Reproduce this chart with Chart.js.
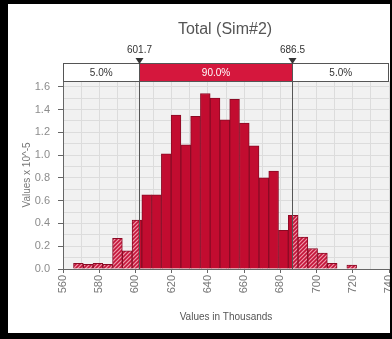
<!DOCTYPE html>
<html>
<head>
<meta charset="utf-8">
<script src="https://cdn.jsdelivr.net/npm/chart.js@4/dist/chart.umd.min.js"></script>
<style>
  html, body { margin: 0; padding: 0; background: #fff; }
  #chart { display: block; }
</style>
</head>
<body>
<canvas id="chart" width="392" height="339"></canvas>
<script>
// histogram bins (values in thousands) and density (x 10^-5)
const binCenters = [568.50, 573.89, 579.28, 584.67, 590.06, 595.45, 600.84, 606.23, 611.62, 617.01,
                    622.40, 627.79, 633.18, 638.57, 643.96, 649.35, 654.74, 660.13, 665.52, 670.91,
                    676.30, 681.69, 687.08, 692.47, 697.86, 703.25, 708.64, 714.03, 719.42];
const densities  = [0.05, 0.04, 0.05, 0.04, 0.27, 0.16, 0.43, 0.65, 0.65, 1.01,
                    1.35, 1.09, 1.34, 1.54, 1.50, 1.31, 1.49, 1.28, 1.08, 0.80,
                    0.86, 0.34, 0.47, 0.28, 0.18, 0.14, 0.05, 0, 0.035];
const yTicks     = [0, 0.1, 0.2, 0.3, 0.4, 0.5, 0.6, 0.7, 0.8, 0.9, 1.0, 1.1, 1.2, 1.3, 1.4, 1.5, 1.6];
const yLabelled  = [0, 0.2, 0.4, 0.6, 0.8, 1.0, 1.2, 1.4, 1.6];
const cutoffs    = [601.7, 686.5];
const bandLabels = ['5.0%', '90.0%', '5.0%'];
const titleText  = 'Total (Sim#2)';

const solidRed = '#c20c30';
const bandRed  = '#d5173d';
const font = '"Liberation Sans", Arial, sans-serif';

let barFill = solidRed;

const isLabelled = v => yLabelled.some(t => Math.abs(t - v) < 1e-6);

// fill that is hatched outside the cutoffs and solid in between
function buildFill(chart) {
  const x = chart.scales.x;
  const xl = x.getPixelForValue(cutoffs[0]);
  const xr = x.getPixelForValue(cutoffs[1]);
  const c = document.createElement('canvas');
  c.width = chart.width;
  c.height = chart.height;
  const g = c.getContext('2d');
  g.fillStyle = '#ef9aaa';
  g.fillRect(0, 0, c.width, c.height);
  g.strokeStyle = '#c4143a';
  g.lineWidth = 1.7;
  for (let i = -c.height; i < c.width; i += 4) {
    g.beginPath();
    g.moveTo(i, c.height);
    g.lineTo(i + c.height, 0);
    g.stroke();
  }
  g.fillStyle = solidRed;
  g.fillRect(xl, 0, xr - xl, c.height);
  return chart.ctx.createPattern(c, 'no-repeat');
}

const decor = {
  id: 'decor',
  afterLayout(chart) {
    barFill = buildFill(chart);
  },
  beforeDraw(chart) {
    const { ctx, chartArea: a } = chart;
    ctx.save();
    ctx.fillStyle = '#fff';
    ctx.fillRect(0, 0, chart.width, chart.height);
    ctx.fillStyle = '#f1f1f1';
    ctx.fillRect(a.left, a.top, a.right - a.left, a.bottom - a.top);
    ctx.restore();
  },
  afterDatasetsDraw(chart) {
    const { ctx, chartArea: a } = chart;
    const x = chart.scales.x;
    ctx.save();
    ctx.strokeStyle = '#555';
    ctx.lineWidth = 1;
    cutoffs.forEach(v => {
      const px = Math.round(x.getPixelForValue(v)) + 0.5;
      ctx.beginPath();
      ctx.moveTo(px, a.top);
      ctx.lineTo(px, a.bottom);
      ctx.stroke();
    });
    ctx.restore();
  },
  afterDraw(chart) {
    const { ctx, chartArea: a } = chart;
    const x = chart.scales.x;
    const xl = Math.round(x.getPixelForValue(cutoffs[0])) + 0.5;
    const xr = Math.round(x.getPixelForValue(cutoffs[1])) + 0.5;
    const top = 63.5, bot = a.top + 0.5;
    ctx.save();

    // percentile band
    ctx.fillStyle = '#fff';
    ctx.fillRect(a.left, top, a.right - a.left, bot - top);
    ctx.fillStyle = bandRed;
    ctx.fillRect(xl, top, xr - xl, bot - top);
    ctx.strokeStyle = '#555';
    ctx.lineWidth = 1;
    ctx.strokeRect(a.left + 0.5, top, a.right - a.left - 1, bot - top);
    ctx.beginPath();
    ctx.moveTo(xl, top); ctx.lineTo(xl, bot);
    ctx.moveTo(xr, top); ctx.lineTo(xr, bot);
    ctx.stroke();

    ctx.font = '10px ' + font;
    ctx.textAlign = 'center';
    ctx.textBaseline = 'middle';
    const my = (top + bot) / 2 + 0.5;
    ctx.fillStyle = '#333';
    ctx.fillText(bandLabels[0], (a.left + xl) / 2, my);
    ctx.fillText(bandLabels[2], (xr + a.right) / 2, my);
    ctx.fillStyle = '#fff';
    ctx.fillText(bandLabels[1], (xl + xr) / 2, my);

    // cutoff markers and values
    ctx.fillStyle = '#333';
    [xl, xr].forEach((px, i) => {
      ctx.beginPath();
      ctx.moveTo(px - 4, 58);
      ctx.lineTo(px + 4, 58);
      ctx.lineTo(px, 64);
      ctx.closePath();
      ctx.fill();
      ctx.fillText(cutoffs[i].toFixed(1), px, 50);
    });

    // title
    ctx.font = '16px ' + font;
    ctx.fillStyle = '#555';
    ctx.fillText(titleText, 225, 30);

    // black frame
    ctx.fillStyle = '#000';
    ctx.fillRect(0, 0, 8, chart.height);
    ctx.fillRect(0, 0, chart.width, 4);
    ctx.fillRect(0, chart.height - 6, chart.width, 6);
    ctx.fillRect(chart.width - 2, 0, 2, chart.height);
    ctx.restore();
  }
};

new Chart(document.getElementById('chart'), {
  type: 'bar',
  data: {
    datasets: [{
      data: binCenters.map((c, i) => ({ x: c, y: densities[i] })),
      backgroundColor: () => barFill,
      borderColor: '#8a0a24',
      borderWidth: 1,
      barPercentage: 1,
      categoryPercentage: 1
    }]
  },
  plugins: [decor],
  options: {
    responsive: false,
    animation: false,
    events: [],
    layout: { padding: { left: 8, top: 81, right: 3, bottom: 8 } },
    plugins: { legend: { display: false }, tooltip: { enabled: false } },
    scales: {
      x: {
        type: 'linear',
        min: 560,
        max: 740,
        offset: false,
        afterFit: s => { s.height = 62; s.paddingLeft = 0; s.paddingRight = 0; },
        ticks: {
          stepSize: 10,
          autoSkip: false,
          minRotation: 90,
          maxRotation: 90,
          padding: 2,
          color: '#777',
          font: { family: font, size: 11 },
          callback: v => (v % 20 === 0 ? String(v) : '')
        },
        grid: {
          offset: false,
          color: '#dcdcdc',
          tickLength: 4,
          tickColor: c => (c.tick && c.tick.value % 20 === 0 ? '#666' : 'rgba(0,0,0,0)')
        },
        border: { color: '#666' },
        title: {
          display: true,
          text: 'Values in Thousands',
          color: '#555',
          font: { family: font, size: 10 },
          padding: { top: 0, bottom: 8 }
        }
      },
      y: {
        min: 0,
        max: 1.65,
        afterFit: s => { s.width = 55; s.paddingTop = 0; s.paddingBottom = 0; },
        afterBuildTicks: s => { s.ticks = yTicks.map(v => ({ value: v })); },
        ticks: {
          autoSkip: false,
          padding: 8,
          color: '#8c8c8c',
          font: { family: font, size: 11 },
          callback: v => (isLabelled(v) ? v.toFixed(1) : '')
        },
        grid: {
          color: '#dcdcdc',
          tickLength: 5,
          tickColor: c => (c.tick && isLabelled(c.tick.value) ? '#666' : 'rgba(0,0,0,0)')
        },
        border: { color: '#666' },
        title: {
          display: true,
          text: 'Values x 10^-5',
          color: '#777',
          font: { family: font, size: 10 },
          padding: { top: 13, bottom: 0 }
        }
      }
    }
  }
});
</script>
</body>
</html>
